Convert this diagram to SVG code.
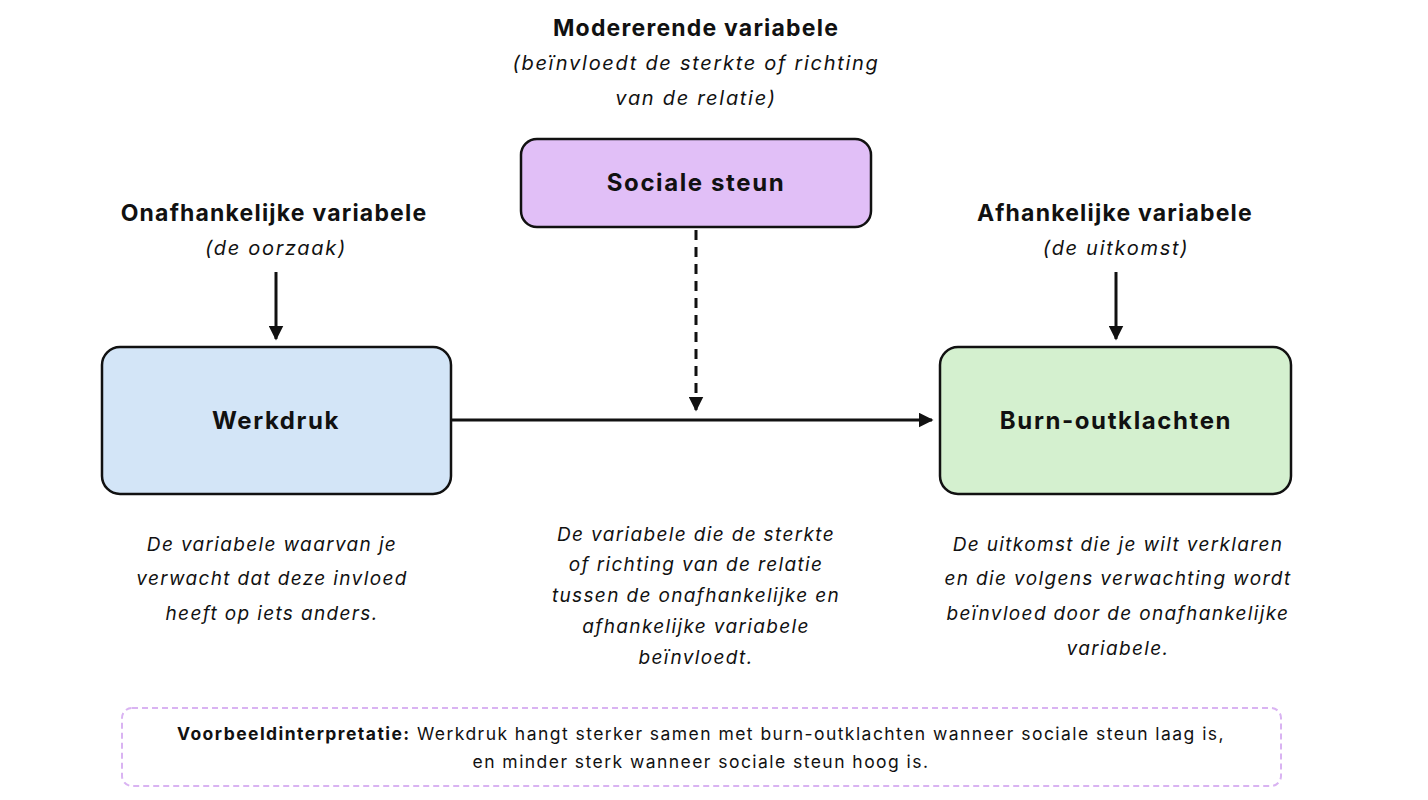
<svg xmlns="http://www.w3.org/2000/svg" width="1428" height="800" viewBox="0 0 1428 800">
<defs>
<marker id="ah" viewBox="0 0 10 10" refX="9" refY="5" markerWidth="5" markerHeight="5" orient="auto" markerUnits="strokeWidth"><path d="M0,0 L10,5 L0,10 z" fill="#111"/></marker>
<style>
text{font-family:Inter,"Noto Sans","Liberation Sans",sans-serif;fill:#111;text-anchor:middle}
.h{font-weight:700;font-size:23px;letter-spacing:1.2px}
.n{font-weight:700;font-size:24px;letter-spacing:1.6px}
.i{font-style:italic;font-size:20px;letter-spacing:1.7px}
.d{font-style:italic;font-size:19px;letter-spacing:1.35px}
.b{font-size:17.5px;letter-spacing:1.45px}
.box{stroke:#111;stroke-width:2.5}
.c{stroke:#111;stroke-width:3;fill:none}
</style>
</defs>
<rect width="1428" height="800" fill="#fff"/>
<g id="labels">
<text class="h" x="696" y="36">Modererende variabele</text>
<text class="i" x="696" y="70">(beïnvloedt de sterkte of richting</text>
<text class="i" x="696" y="105">van de relatie)</text>
<text class="h" x="274" y="221">Onafhankelijke variabele</text>
<text class="i" x="276" y="255">(de oorzaak)</text>
<text class="h" x="1115" y="221">Afhankelijke variabele</text>
<text class="i" x="1116" y="255">(de uitkomst)</text>
</g>
<g id="connectors">
<line class="c" x1="276" y1="272" x2="276" y2="339" marker-end="url(#ah)"/>
<line class="c" x1="1116" y1="272" x2="1116" y2="339" marker-end="url(#ah)"/>
<line class="c" x1="452" y1="420" x2="932" y2="420" marker-end="url(#ah)"/>
<line class="c" x1="696" y1="230" x2="696" y2="410" stroke-dasharray="10,7" marker-end="url(#ah)"/>
</g>
<g id="node-sociale-steun">
<rect class="box" x="521" y="139" width="350" height="88" rx="16" fill="#e1bff7"/>
<text class="n" x="696" y="191">Sociale steun</text>
</g>
<g id="node-werkdruk">
<rect class="box" x="102" y="347" width="349" height="147" rx="18" fill="#d3e5f7"/>
<text class="n" x="276" y="429">Werkdruk</text>
</g>
<g id="node-burnout">
<rect class="box" x="940" y="347" width="351" height="147" rx="18" fill="#d4f0cf"/>
<text class="n" x="1116" y="429">Burn-outklachten</text>
</g>
<g id="descriptions">
<text class="d" x="272" y="551">De variabele waarvan je</text>
<text class="d" x="272" y="585">verwacht dat deze invloed</text>
<text class="d" x="272" y="620">heeft op iets anders.</text>
<text class="d" x="696" y="541">De variabele die de sterkte</text>
<text class="d" x="696" y="571">of richting van de relatie</text>
<text class="d" x="696" y="602">tussen de onafhankelijke en</text>
<text class="d" x="696" y="633">afhankelijke variabele</text>
<text class="d" x="696" y="664">beïnvloedt.</text>
<text class="d" x="1118" y="551">De uitkomst die je wilt verklaren</text>
<text class="d" x="1118" y="585">en die volgens verwachting wordt</text>
<text class="d" x="1118" y="620">beïnvloed door de onafhankelijke</text>
<text class="d" x="1118" y="655">variabele.</text>
</g>
<g id="note">
<rect x="122" y="708" width="1159" height="78" rx="10" fill="none" stroke="#d9b3f2" stroke-width="2" stroke-dasharray="6,4"/>
<text class="b" x="701" y="740"><tspan font-weight="700">Voorbeeldinterpretatie:</tspan> Werkdruk hangt sterker samen met burn-outklachten wanneer sociale steun laag is,</text>
<text class="b" x="701" y="768">en minder sterk wanneer sociale steun hoog is.</text>
</g>
</svg>
